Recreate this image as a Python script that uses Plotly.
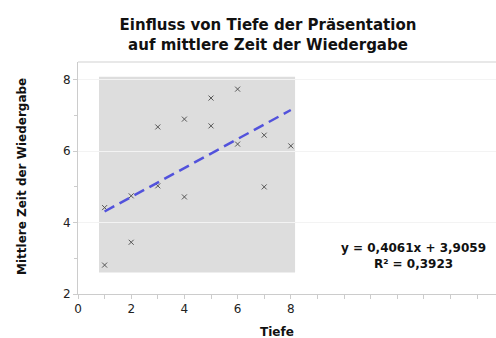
import plotly.graph_objects as go

tiefe = [1, 1, 2, 2, 3, 3, 4, 4, 5, 5, 6, 6, 7, 7, 8]
zeit = [2.81, 4.42, 3.45, 4.75, 6.68, 5.03, 6.90, 4.72, 7.49, 6.71, 7.74, 6.20, 6.45, 5.00, 6.15]
slope = 0.4061
intercept = 3.9059
r2 = 0.3923
x_ticks = [0, 2, 4, 6, 8]
y_ticks = [2, 4, 6, 8]

W, H = 496, 338
L, R, T, B = 78, 0, 62, 44

fig = go.Figure()

# trend line
tx = [min(tiefe), max(tiefe)]
ty = [slope * v + intercept for v in tx]

fig.add_trace(go.Scatter(
    x=tiefe, y=zeit, mode="markers",
    marker=dict(symbol="x-thin", size=5, line=dict(color="#555555", width=1)),
    showlegend=False, hoverinfo="x+y"))
fig.add_trace(go.Scatter(
    x=tx, y=ty, mode="lines",
    line=dict(color="#5252dc", width=2.5, dash="11px,6px"),
    showlegend=False))

fig.add_shape(type="rect", xref="x", yref="y", x0=0.79, x1=8.16, y0=2.6, y1=8.09,
              fillcolor="#dddddd", line=dict(width=0), layer="below")
fig.add_shape(type="line", xref="paper", yref="paper", x0=0, x1=1, y0=1, y1=1,
              line=dict(color="#e0e0e0", width=1.5))

font_main = "DejaVu Sans, Verdana, sans-serif"

def de(v):
    return ("%.4f" % v).replace(".", ",")

fig.update_layout(
    width=W, height=H,
    margin=dict(l=L, r=R, t=T, b=B),
    paper_bgcolor="white", plot_bgcolor="white",
    font=dict(family=font_main, size=12, color="#222222"),
    title=dict(text="<b>Einfluss von Tiefe der Präsentation<br>auf mittlere Zeit der Wiedergabe</b>",
               x=268 / W, xanchor="center", y=1 - 30 / H, yanchor="middle",
               font=dict(size=15, color="#111111", family=font_main)),
    xaxis=dict(range=[0, (W - L - R) / 26.6], tickvals=x_ticks, ticktext=[str(v) for v in x_ticks],
               showgrid=False, zeroline=False, showline=True, linecolor="#cccccc", linewidth=1,
               ticks="outside", ticklen=4, tickcolor="#cccccc",
               minor=dict(dtick=1, ticks="outside", ticklen=4, tickcolor="#cccccc", showgrid=False),
               tickfont=dict(size=12, color="#222222")),
    yaxis=dict(range=[2, 8.5], tickvals=y_ticks, ticktext=[str(v) for v in y_ticks],
               showgrid=True, gridcolor="#f3f3f3", gridwidth=1, zeroline=False,
               showline=True, linecolor="#cccccc", linewidth=1,
               ticks="outside", ticklen=4, tickcolor="#cccccc",
               minor=dict(dtick=1, ticks="outside", ticklen=3, tickcolor="#cccccc", showgrid=False),
               tickfont=dict(size=12, color="#222222")),
    annotations=[
        dict(text="<b>Tiefe</b>", xref="paper", yref="paper",
             x=(277 - L) / (W - L - R), y=-(332 - (H - B)) / (H - T - B),
             xanchor="center", yanchor="middle", showarrow=False,
             font=dict(size=12, color="#111111")),
        dict(text="<b>Mittlere Zeit der Wiedergabe</b>", xref="paper", yref="paper",
             x=-(L - 22) / (W - L - R), y=(H - B - 177) / (H - T - B), textangle=-90,
             xanchor="center", yanchor="middle", showarrow=False,
             font=dict(size=12, color="#111111")),
        dict(text="<b>y = %sx + %s<br>R² = %s</b>" % (de(slope), de(intercept), de(r2)),
             xref="paper", yref="paper",
             x=(413 - L) / (W - L - R), y=(H - B - 256) / (H - T - B),
             xanchor="center", yanchor="middle", showarrow=False,
             font=dict(size=12, color="#111111")),
    ],
)
fig.write_html("out.html", config={"displayModeBar": False},
               post_script="document.body.style.margin='0';document.body.style.overflow='hidden';")
